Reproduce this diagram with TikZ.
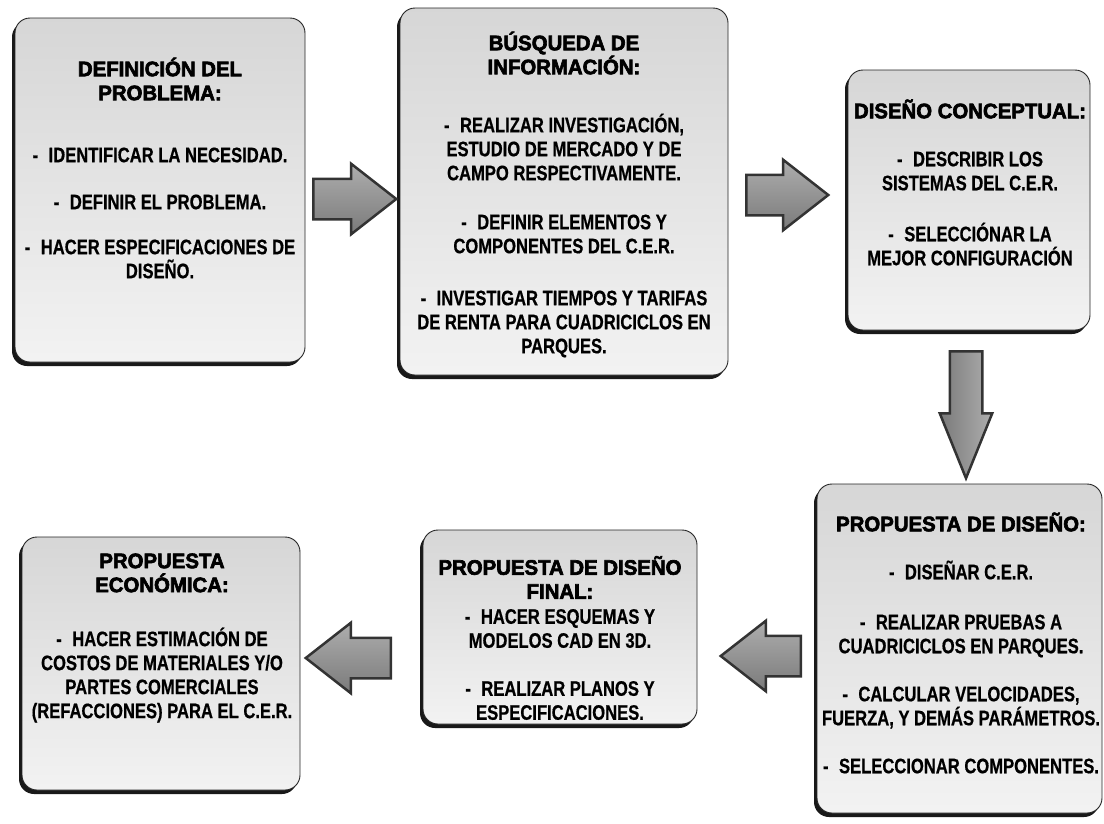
\documentclass[tikz,border=0pt]{standalone}
\usepackage{fontspec}
\setmainfont{Liberation Sans}
\newfontfamily\textocaja{Liberation Sans Bold}[FakeStretch=0.79,FakeBold=0.6]
\newfontfamily\titulocaja{Liberation Sans Bold}[FakeStretch=0.97,FakeBold=3]
\usetikzlibrary{shapes.arrows,shadows}
\newcommand{\guion}{-\hspace{0.5em}}
\tikzset{
	caja/.style={rectangle, rounded corners=15pt, draw=black!85, line width=0.9pt,
		top color=black!16, bottom color=black!5,
		drop shadow={shadow xshift=-3pt, shadow yshift=-4pt, fill=black, opacity=0.9}},
	texto/.style={align=center, inner sep=0pt, font=\textocaja\fontsize{21}{24}\selectfont},
	flecha/.style={single arrow, draw=black!80, line width=2.5pt, top color=black!32, bottom color=black!52,
		inner xsep=0pt, inner ysep=19pt, single arrow head extend=15pt, single arrow tip angle=76},
	flechabaja/.style={flecha, left color=black!52, right color=black!32,
		inner ysep=15pt, single arrow head extend=10pt, single arrow tip angle=44}
}
\begin{document}
\begin{tikzpicture}[x=1pt,y=-1pt]
				\useasboundingbox (0,0) rectangle (1104,823);
				\fill[white] (0,0) rectangle (1104,823);
				\coordinate (P1) at (160,190);
				\coordinate (P2) at (564,191.5);
				\coordinate (P3) at (969,200);
				\coordinate (P4) at (959.5,648.5);
				\coordinate (P5) at (560,627);
				\coordinate (P6) at (161,663.5);
				\node[caja, minimum width=290pt, minimum height=344pt] (b1) at (P1) {};
				\node[caja, minimum width=328pt, minimum height=367pt] (b2) at (P2) {};
				\node[caja, minimum width=242pt, minimum height=260pt] (b3) at (P3) {};
				\node[caja, minimum width=285pt, minimum height=329pt] (b4) at (P4) {};
				\node[caja, minimum width=274pt, minimum height=194pt] (b5) at (P5) {};
				\node[caja, minimum width=278pt, minimum height=253pt] (b6) at (P6) {};
				\node[texto] (t1) at (160,168) {{\titulocaja DEFINICIÓN DEL}\\{\titulocaja PROBLEMA:}\\[38pt]\guion IDENTIFICAR LA NECESIDAD.\\[23pt]\guion DEFINIR EL PROBLEMA.\\[21pt]\guion HACER ESPECIFICACIONES DE\\DISEÑO.};
				\node[texto] (t2) at (564,194.5) {{\titulocaja BÚSQUEDA DE}\\{\titulocaja INFORMACIÓN:}\\[34pt]\guion REALIZAR INVESTIGACIÓN,\\ESTUDIO DE MERCADO Y DE\\CAMPO RESPECTIVAMENTE.\\[25pt]\guion DEFINIR ELEMENTOS Y\\COMPONENTES DEL C.E.R.\\[28pt]\guion INVESTIGAR TIEMPOS Y TARIFAS\\DE RENTA PARA CUADRICICLOS EN\\PARQUES.};
				\node[texto] (t3) at (970,182.5) {{\titulocaja DISEÑO CONCEPTUAL:}\\[24pt]\guion DESCRIBIR LOS\\SISTEMAS DEL C.E.R.\\[27pt]\guion SELECCIÓNAR LA\\MEJOR CONFIGURACIÓN};
				\node[texto] (t4) at (961,643) {{\titulocaja PROPUESTA DE DISEÑO:}\\[24pt]\guion DISEÑAR C.E.R.\\[26pt]\guion REALIZAR PRUEBAS A\\CUADRICICLOS EN PARQUES.\\[24pt]\guion CALCULAR VELOCIDADES,\\FUERZA, Y DEMÁS PARÁMETROS.\\[24pt]\guion SELECCIONAR COMPONENTES.};
				\node[texto] (t5) at (560,638) {{\titulocaja PROPUESTA DE DISEÑO}\\{\titulocaja FINAL:}\\[1pt]\guion HACER ESQUEMAS Y\\MODELOS CAD EN 3D.\\[24pt]\guion REALIZAR PLANOS Y\\ESPECIFICACIONES.};
				\node[texto] (t6) at (162,638) {{\titulocaja PROPUESTA}\\{\titulocaja ECONÓMICA:}\\[30pt]\guion HACER ESTIMACIÓN DE\\COSTOS DE MATERIALES Y/O\\PARTES COMERCIALES\\(REFACCIONES) PARA EL C.E.R.};
				%\draw[dashed] (b1) -- (b2);
				\node[flecha, anchor=tail, minimum height=83pt] (a1) at (312,199) {};
				\node[flecha, anchor=tail, minimum height=82pt] (a2) at (745,195) {};
				\node[flechabaja, anchor=tail, rotate=-90, minimum height=127pt] (a3) at (966,350) {};
				\node[flecha, anchor=tail, rotate=180, minimum height=80pt] (a4) at (802,656) {};
				\node[flecha, anchor=tail, rotate=180, minimum height=85pt] (a5) at (392,658) {};
			\end{tikzpicture}
\end{document}
